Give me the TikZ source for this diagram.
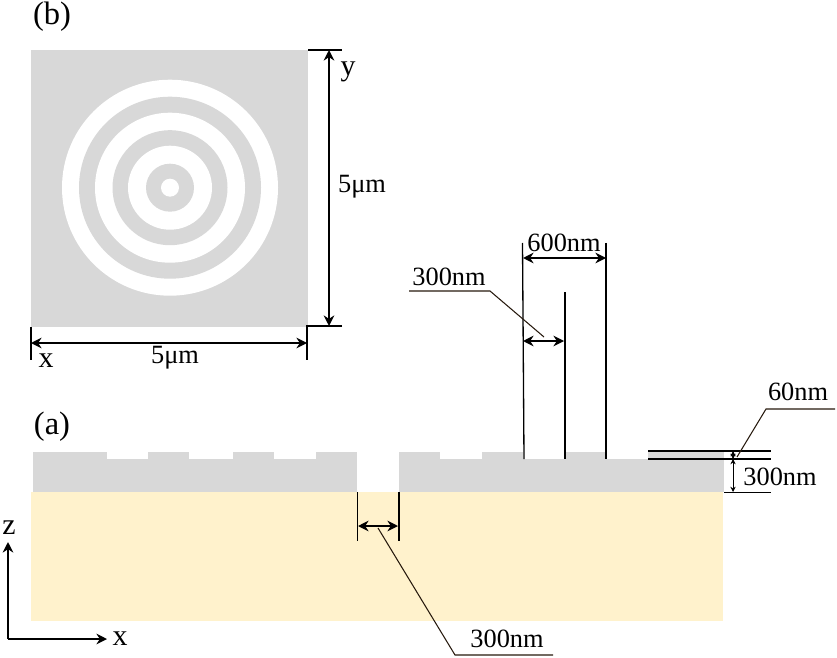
\documentclass[tikz,border=0pt]{standalone}
\usepackage{fontspec}
\setmainfont{Liberation Serif}
\usetikzlibrary{arrows.meta}
\definecolor{layergray}{RGB}{216,216,216}
\definecolor{layeryellow}{RGB}{255,242,204}
\tikzset{
  label/.style={font=\fontsize{15}{15}\selectfont, inner sep=0pt},
  biglabel/.style={font=\fontsize{18.5}{18.5}\selectfont, inner sep=0pt},
  axislabel/.style={font=\fontsize{17}{17}\selectfont, inner sep=0pt},
  dimline/.style={color=black, line width=0.75pt},
  leader/.style={color=black!80!brown, line width=0.6pt},
  dimarrow/.style={color=black, line width=1pt, {Stealth[length=6pt,width=6pt]}-{Stealth[length=6pt,width=6pt]}},
  thinarrow/.style={color=black, line width=0.4pt, {Stealth[length=3pt,width=3pt]}-{Stealth[length=3pt,width=3pt]}},
  axisarrow/.style={color=black, line width=1.1pt, -{Stealth[length=6pt,width=6pt]}}
}

\begin{document}
\begin{tikzpicture}[x=0.02cm, y=-0.02cm]
  \useasboundingbox (0,0) rectangle (837,658);

  % top view
  \fill[layergray] (31,50) rectangle (308,327);
  \foreach \r/\c in {108/white,91/layergray,75/white,57.5/layergray,42/white,24/layergray,9/white}
  {
  \fill[\c] (170,187.7) circle ({\r*0.02cm});
  }
  \draw[dimline] (308,50) -- (342,50);
  \draw[dimline] (31,327) -- (31,360);
  \draw[dimline] (342,326) -- (307,326) -- (307,360);
  \draw[dimarrow] (329,50) -- (329,326);
  \draw[dimarrow] (31,343) -- (307,343);

  % cross section
  \fill[layeryellow] (31,492) rectangle (723,621);
  \fill[layergray] (33,459) rectangle (357,492);
  \fill[layergray] (399,459) rectangle (724,492);
  \foreach \a/\b in {33/107,148/189,232.5/274,316/357,399/440,481.5/523,565/606,648/724}
  {
  \fill[layergray] (\a,452) rectangle (\b,459.5);
  }

  % dimensions of the grooves
  \draw[dimline] (522.5,243) -- (524,459);
  \draw[dimline] (606,243) -- (606,459);
  \draw[dimline] (565,292) -- (565,459);
  \draw[dimarrow] (523,258) -- (606,258);
  \draw[dimarrow] (523,341) -- (564,341);
  \draw[leader] (409,291) -- (490,291) -- (544,337);

  % dimensions of the layers
  \draw[dimline] (648,451) -- (771,451);
  \draw[dimline] (648,459) -- (771,459);
  \draw[dimline] (724,492.5) -- (771,492.5);
  \draw[thinarrow] (733,451) -- (733,459);
  \draw[thinarrow] (733,459) -- (733,492);
  \draw[leader] (835,409) -- (766,409) -- (737,457);

  % dimensions of the slit
  \draw[dimline] (357.5,492) -- (357.5,541);
  \draw[dimline] (399,492) -- (399,541);
  \draw[dimarrow] (358,526) -- (398,526);
  \draw[leader] (378,528) -- (455,655) -- (553,655);

  % axes
  \draw[axisarrow] (8,639) -- (8,542);
  \draw[axisarrow] (8,639) -- (107,639);

  \node[biglabel] (labelb) at (52,17) {(b)};
  \node[biglabel] (labela) at (52,427) {(a)};
  \node[axislabel] (labely) at (348,72) {y};
  \node[axislabel] (labelxtop) at (46,361) {x};
  \node[label] (widthtop) at (175,358) {5μm};
  \node[label] (heighttop) at (362,187) {5μm};
  \node[label] (pitch) at (564,243) {600nm};
  \node[label] (groove) at (449,277) {300nm};
  \node[label] (depth) at (798,392) {60nm};
  \node[label] (thick) at (780,477) {300nm};
  \node[label] (slit) at (507,639) {300nm};
  \node[axislabel] (axisz) at (9,528) {z};
  \node[axislabel] (axisx) at (120,639) {x};
\end{tikzpicture}
\end{document}
